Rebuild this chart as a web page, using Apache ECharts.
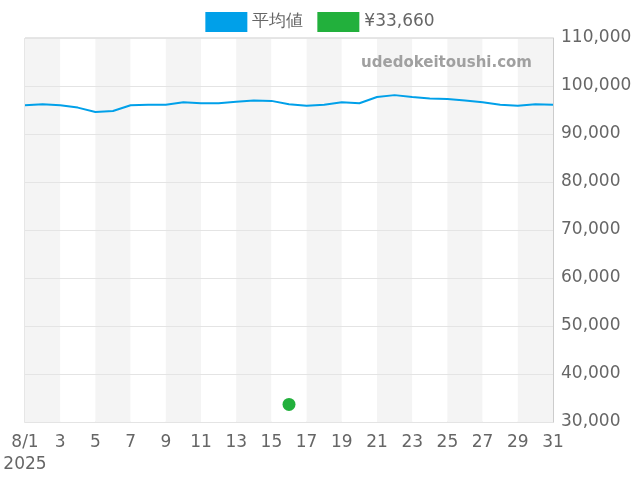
<!DOCTYPE html>
<html>
<head>
<meta charset="utf-8">
<script src="https://cdn.jsdelivr.net/npm/echarts@6/dist/echarts.min.js"></script>
<style>html,body{margin:0;padding:0;}#chart{width:640px;height:480px;}</style>
</head>
<body>
<div id="chart"></div>
<script>
// 8月の日付と平均値
const days = [];
for (let d = 1; d <= 31; d++) days.push(d === 1 ? '8/1' : String(d));
const avgValues = [96000, 96200, 96000, 95500, 94600, 94800, 96000, 96100, 96100, 96600,
    96400, 96400, 96700, 97000, 96900, 96200, 95900, 96100, 96600, 96400,
    97700, 98100, 97700, 97400, 97300, 97000, 96600, 96100, 95900, 96200, 96100];
const pointDay = '16';
const pointValue = 33660;

const chart = echarts.init(document.getElementById('chart'));
chart.setOption({
    animation: false,
    textStyle: { fontFamily: 'DejaVu Sans' },
    legend: {
        top: 7,
        left: 'center',
        itemWidth: 42,
        itemHeight: 20,
        itemGap: 14,
        textStyle: { fontSize: 17, color: '#666' },
        data: [
            { name: '平均値', icon: 'rect', itemStyle: { color: '#00a0e9' } },
            { name: '¥33,660', icon: 'rect', itemStyle: { color: '#22b03c' } },
        ],
    },
    graphic: [{
        type: 'text',
        z: 100,
        right: 108,
        top: 56,
        style: { text: 'udedokeitoushi.com', fill: '#a0a0a0', font: 'bold 15px DejaVu Sans' },
    }],
    grid: { left: 25, right: 87, top: 38, bottom: 58, show: true, borderColor: '#ccc', borderWidth: 1 },
    xAxis: {
        type: 'category',
        data: days,
        boundaryGap: false,
        z: 0,
        axisLine: { lineStyle: { color: '#ccc' } },
        axisTick: { show: false },
        axisLabel: {
            interval: 1,
            fontSize: 17,
            margin: 10,
            lineHeight: 22,
            color: '#666',
            formatter: v => v === '8/1' ? '8/1\n2025' : v,
        },
        splitLine: { show: false },
        splitArea: { show: true, interval: 1, areaStyle: { color: ['#f4f4f4', '#ffffff'] } },
    },
    yAxis: {
        type: 'value',
        position: 'right',
        z: 3,
        min: 30000,
        max: 110000,
        interval: 10000,
        axisLine: { show: true, lineStyle: { color: '#ccc' } },
        axisLabel: { fontSize: 17, color: '#666', formatter: v => v.toLocaleString('en-US') },
        splitLine: { lineStyle: { color: '#e4e4e4' } },
    },
    series: [
        {
            name: '平均値',
            type: 'line',
            z: 5,
            data: avgValues,
            symbol: 'none',
            lineStyle: { color: '#00a0e9', width: 2 },
            itemStyle: { color: '#00a0e9' },
        },
        {
            name: '¥33,660',
            type: 'scatter',
            z: 6,
            data: [[pointDay, pointValue]],
            symbolSize: 13,
            itemStyle: { color: '#22b03c', opacity: 1 },
        },
    ],
});
</script>
</body>
</html>
